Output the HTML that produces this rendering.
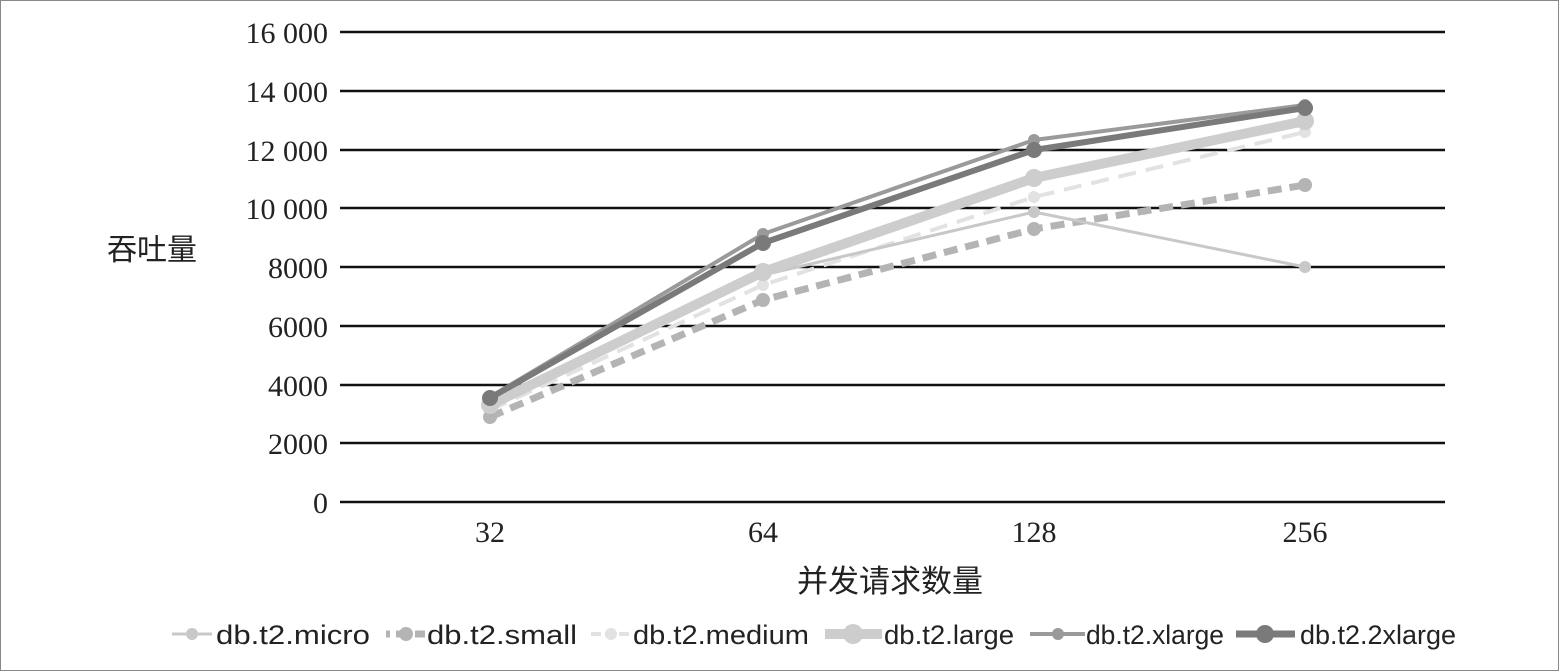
<!DOCTYPE html>
<html><head><meta charset="utf-8"><style>
body{margin:0;background:#fff}
svg{display:block}
</style></head><body>
<svg width="1559" height="671" viewBox="0 0 1559 671">
<rect x="0.5" y="0.5" width="1558" height="670" fill="#fff" stroke="#888"/>
<g stroke="#111" stroke-width="2.5">
<line x1="340" x2="1445" y1="32" y2="32"/><line x1="340" x2="1445" y1="91" y2="91"/>
<line x1="340" x2="1445" y1="150" y2="150"/><line x1="340" x2="1445" y1="208" y2="208"/>
<line x1="340" x2="1445" y1="267" y2="267"/><line x1="340" x2="1445" y1="326" y2="326"/>
<line x1="340" x2="1445" y1="385" y2="385"/><line x1="340" x2="1445" y1="443" y2="443"/>
<line x1="340" x2="1445" y1="502" y2="502"/>
</g>
<g font-family="Liberation Serif, serif" font-size="30" fill="#222" text-anchor="end">
<text x="328" y="43">16 000</text><text x="328" y="102">14 000</text><text x="328" y="161">12 000</text>
<text x="328" y="219">10 000</text><text x="328" y="278">8000</text><text x="328" y="337">6000</text>
<text x="328" y="396">4000</text><text x="328" y="454">2000</text><text x="328" y="513">0</text>
</g>
<g font-family="Liberation Serif, serif" font-size="30" fill="#222" text-anchor="middle">
<text x="490" y="542">32</text><text x="763" y="542">64</text><text x="1034" y="542">128</text><text x="1305" y="542">256</text>
</g>
<text x="152" y="260" font-family="Liberation Sans, Noto Sans CJK SC, sans-serif" font-size="30" fill="#222" text-anchor="middle">吞吐量</text>
<text x="890" y="592" font-family="Liberation Sans, Noto Sans CJK SC, sans-serif" font-size="31" fill="#222" text-anchor="middle">并发请求数量</text>
<g fill="none" stroke-linejoin="round">
<polyline points="490,410 763,285 1034,197 1305,132" stroke="#e2e2e2" stroke-width="4" stroke-dasharray="18,10"/>
<polyline points="490,417 763,300 1034,229 1305,185" stroke="#b4b4b4" stroke-width="7" stroke-dasharray="14,8"/>
<polyline points="490,400 763,275 1034,212 1305,267" stroke="#c8c8c8" stroke-width="3"/>
<polyline points="490,405 763,272 1034,178 1305,121" stroke="#cdcdcd" stroke-width="10"/>
<polyline points="490,397 763,234 1034,140 1305,105" stroke="#9a9a9a" stroke-width="4"/>
<polyline points="490,398 763,243 1034,150 1305,108" stroke="#7a7a7a" stroke-width="6"/>
</g>
<g>
<g fill="#e2e2e2"><circle cx="490" cy="410" r="6"/><circle cx="763" cy="285" r="6"/><circle cx="1034" cy="197" r="6"/><circle cx="1305" cy="132" r="6"/></g>
<g fill="#b4b4b4"><circle cx="490" cy="417" r="7"/><circle cx="763" cy="300" r="7"/><circle cx="1034" cy="229" r="7"/><circle cx="1305" cy="185" r="7"/></g>
<g fill="#c8c8c8"><circle cx="490" cy="400" r="6"/><circle cx="763" cy="275" r="6"/><circle cx="1034" cy="212" r="6"/><circle cx="1305" cy="267" r="6"/></g>
<g fill="#cdcdcd"><circle cx="490" cy="405" r="9"/><circle cx="763" cy="272" r="9"/><circle cx="1034" cy="178" r="9"/><circle cx="1305" cy="121" r="9"/></g>
<g fill="#9a9a9a"><circle cx="490" cy="397" r="6"/><circle cx="763" cy="234" r="6"/><circle cx="1034" cy="140" r="6"/><circle cx="1305" cy="105" r="6"/></g>
<g fill="#7a7a7a"><circle cx="490" cy="398" r="8"/><circle cx="763" cy="243" r="8"/><circle cx="1034" cy="150" r="8"/><circle cx="1305" cy="108" r="8"/></g>
</g>
<g font-family="Liberation Sans, sans-serif" font-size="27" fill="#222">
<line x1="172" x2="212" y1="634" y2="634" stroke="#c8c8c8" stroke-width="3"/><circle cx="192" cy="634" r="6" fill="#c8c8c8"/>
<text x="216" y="644" textLength="154" lengthAdjust="spacingAndGlyphs">db.t2.micro</text>
<line x1="386" x2="425" y1="634" y2="634" stroke="#b4b4b4" stroke-width="7" stroke-dasharray="4,6,13,6,10"/><circle cx="406" cy="634" r="7" fill="#b4b4b4"/>
<text x="427" y="644" textLength="150" lengthAdjust="spacingAndGlyphs">db.t2.small</text>
<line x1="591" x2="630" y1="634" y2="634" stroke="#e2e2e2" stroke-width="4" stroke-dasharray="10,4"/><circle cx="611" cy="634" r="6" fill="#e2e2e2"/>
<text x="633" y="644" textLength="176" lengthAdjust="spacingAndGlyphs">db.t2.medium</text>
<line x1="825" x2="882" y1="634" y2="634" stroke="#cdcdcd" stroke-width="10"/><circle cx="853" cy="634" r="10" fill="#cdcdcd"/>
<text x="884" y="644" textLength="130" lengthAdjust="spacingAndGlyphs">db.t2.large</text>
<line x1="1030" x2="1085" y1="634" y2="634" stroke="#9a9a9a" stroke-width="4"/><circle cx="1058" cy="634" r="6" fill="#9a9a9a"/>
<text x="1086" y="644" textLength="138" lengthAdjust="spacingAndGlyphs">db.t2.xlarge</text>
<line x1="1236" x2="1295" y1="634" y2="634" stroke="#7a7a7a" stroke-width="7"/><circle cx="1265" cy="634" r="9" fill="#7a7a7a"/>
<text x="1300" y="644" textLength="156" lengthAdjust="spacingAndGlyphs">db.t2.2xlarge</text>
</g>
</svg>
</body></html>
